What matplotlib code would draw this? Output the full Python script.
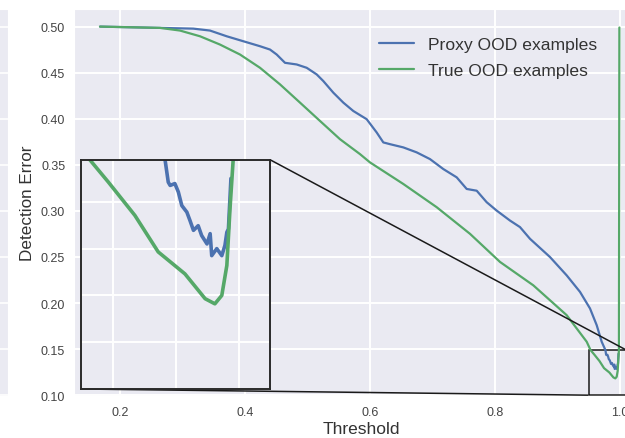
import matplotlib
matplotlib.use("Agg")
import matplotlib.pyplot as plt
import seaborn as sns
from mpl_toolkits.axes_grid1.inset_locator import mark_inset

# ---- data ----
t_proxy = [0.168, 0.264, 0.3173, 0.344, 0.3707, 0.3973, 0.424, 0.44, 0.4507, 0.464,
           0.4827, 0.4987, 0.5147, 0.5253, 0.5413, 0.5573, 0.5733, 0.5947, 0.6107, 0.6213,
           0.632, 0.6533, 0.6747, 0.696, 0.7173, 0.7387, 0.7547, 0.7707, 0.7867, 0.8027,
           0.824, 0.84, 0.856, 0.888, 0.9147, 0.936, 0.952, 0.9627, 0.9707, 0.9767,
           0.9777, 0.9783, 0.9798, 0.9809, 0.9820, 0.9836, 0.9846, 0.9857, 0.9872, 0.9883,
           0.9900, 0.9910, 0.9915, 0.9931, 0.9947, 0.9957, 0.9963, 0.9968, 0.9976]
err_proxy = [0.500, 0.4986, 0.4978, 0.4957, 0.4895, 0.4841, 0.4787, 0.4751, 0.4697, 0.4607,
             0.4589, 0.4553, 0.4481, 0.4409, 0.4283, 0.4175, 0.4084, 0.3995, 0.3851, 0.3743,
             0.3724, 0.3689, 0.3635, 0.3562, 0.3454, 0.3364, 0.3238, 0.3219, 0.3094, 0.3003,
             0.2895, 0.2824, 0.2697, 0.2499, 0.2300, 0.2121, 0.1941, 0.1760, 0.1580, 0.1489,
             0.1442, 0.1435, 0.1439, 0.1421, 0.1392, 0.1378, 0.1360, 0.1339, 0.1349, 0.1328,
             0.1310, 0.1332, 0.1285, 0.1300, 0.1285, 0.1307, 0.1335, 0.1342, 0.1450]

t_true = [0.168, 0.264, 0.296, 0.328, 0.36, 0.392, 0.424, 0.456, 0.488, 0.52,
          0.552, 0.584, 0.6, 0.6533, 0.7067, 0.76, 0.808, 0.8613, 0.9147, 0.9467,
          0.9529, 0.9587, 0.9671, 0.9745, 0.9830, 0.9894, 0.9925, 0.9947, 0.9963, 0.9973,
          0.9983, 0.9990]
err_true = [0.500, 0.4986, 0.4957, 0.4895, 0.4805, 0.4697, 0.4553, 0.4373, 0.4175, 0.3976,
            0.3778, 0.3616, 0.3526, 0.3292, 0.3040, 0.2751, 0.2446, 0.2192, 0.1868, 0.1580,
            0.1489, 0.1442, 0.1371, 0.1293, 0.1246, 0.1193, 0.1182, 0.1200, 0.1264, 0.1385,
            0.1489, 0.499]

labels = ["Proxy OOD examples", "True OOD examples"]
x_ticks = [0.2, 0.4, 0.6, 0.8, 1.0]
y_ticks = [0.10, 0.15, 0.20, 0.25, 0.30, 0.35, 0.40, 0.45, 0.50]

# ---- style ----
sns.set_style("darkgrid")
plt.rcParams["font.family"] = ["Liberation Sans", "DejaVu Sans"]
BLUE = "#4C72B0"
GREEN = "#55A868"
W, H = 625, 439

fig = plt.figure(figsize=(W / 100, H / 100), dpi=100)

# sliver of a neighbouring panel at the left edge
ax_strip = fig.add_axes([-12 / W, 42 / H, 20 / W, 387 / H])
ax_strip.set_facecolor("#EAEAF2")
ax_strip.set_ylim(0.0991, 0.5191)
ax_strip.set_yticks(y_ticks)
ax_strip.set_xticks([])
ax_strip.tick_params(labelleft=False, length=0)
ax_strip.grid(True, color="white", lw=1.2)

ax = fig.add_axes([73.5 / W, 42 / H, (646 - 73.5) / W, 387 / H])
ax.plot(t_proxy, err_proxy, color=BLUE, lw=1.6, label=labels[0])
ax.plot(t_true, err_true, color=GREEN, lw=1.6, label=labels[1])
ax.set_xlim(0.1256, 1.0416)
ax.set_ylim(0.0991, 0.5191)
ax.set_xticks(x_ticks)
ax.set_yticks(y_ticks)
ax.tick_params(axis="both", labelsize=9, colors="#444444", length=0)
ax.tick_params(axis="y", pad=6)
ax.tick_params(axis="x", pad=7)
ax.grid(True, color="white", lw=1.4)
ax.set_xlabel("Threshold", fontsize=12.5, color="#333333")
ax.set_ylabel("Detection Error", fontsize=12.3, color="#333333")
ax.xaxis.set_label_coords((361 - 73.5) / 572.5, -0.064)
ax.yaxis.set_label_coords(-0.068, 0.5)

leg = ax.legend(loc="upper left", bbox_to_anchor=(363 / W, 1 - 22 / H),
                bbox_transform=fig.transFigure, frameon=False, fontsize=12.6,
                handlelength=2.0, handletextpad=0.8, labelspacing=0.6, borderpad=0.4)
for txt in leg.get_texts():
    txt.set_color("#333333")

# inset
ax_ins = fig.add_axes([81 / W, (H - 390) / H, 189 / W, 229.3 / H])
ax_ins.set_facecolor("#EAEAF2")
ax_ins.plot(t_proxy, err_proxy, color=BLUE, lw=2.6)
ax_ins.plot(t_true, err_true, color=GREEN, lw=2.6)
ax_ins.set_xlim(0.95, 1.01)
ax_ins.set_ylim(0.10, 0.149)
ax_ins.set_xticks([0.96, 0.98, 1.00])
ax_ins.set_yticks([0.11, 0.12, 0.13, 0.14])
ax_ins.tick_params(labelleft=False, labelbottom=False, length=0)
ax_ins.grid(True, color="white", lw=1.4)
for sp in ax_ins.spines.values():
    sp.set_visible(True)
    sp.set_color("#2a2a2a")
    sp.set_linewidth(1.4)

mark_inset(ax, ax_ins, loc1=1, loc2=3, fc="none", ec="#1a1a1a", lw=1.1)

fig.savefig("out.png", dpi=100)
